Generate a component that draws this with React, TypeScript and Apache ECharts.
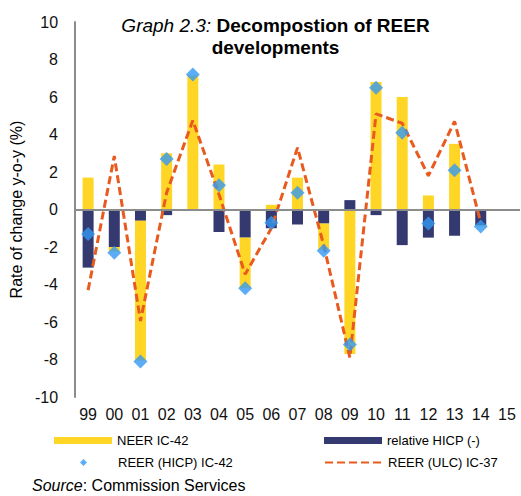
import React, { useEffect, useRef } from "react";
import * as echarts from "echarts";

const categories = ["99", "00", "01", "02", "03", "04", "05", "06", "07", "08", "09", "10", "11", "12", "13", "14", "15"];
const neer = [1.7, -0.25, -7.45, 3.0, 7.15, 2.4, -2.7, 0.25, 1.7, -1.4, -7.7, 6.8, 6.0, 0.75, 3.5, -0.05, null];
const relHicp = [-3.1, -2.0, -0.6, -0.3, 0, -1.2, -1.5, -1.0, -0.8, -0.75, 0.5, -0.3, -1.9, -1.5, -1.4, -0.85, null];
const reerHicp = [-1.3, -2.3, -8.1, 2.7, 7.2, 1.3, -4.2, -0.7, 0.9, -2.2, -7.2, 6.5, 4.1, -0.75, 2.1, -0.9, null];
const reerUlc = [-4.3, 2.85, -5.95, 0.9, 4.75, 0.8, -3.45, -1.0, 3.3, -1.9, -7.9, 5.1, 4.6, 1.8, 4.7, -0.7, null];

const FONT = "Liberation Sans, Arial, sans-serif";
const YELLOW = "#FFD626";
const NAVY = "#343A70";
const BLUE = "#3399F5";
const ORANGE = "#E85A1E";

export default function App() {
  const ref = useRef<HTMLDivElement>(null);
  useEffect(() => {
    if (!ref.current) return;
    const chart = echarts.init(ref.current, null, { renderer: "svg" });
    const legendBase = {
      padding: 0,
      textStyle: { fontFamily: FONT, fontSize: 13, color: "#000" },
      selectedMode: false,
    };
    chart.setOption({
      animation: false,
      backgroundColor: "#fff",
      textStyle: { fontFamily: FONT },
      grid: { left: 70, right: 1, top: 22, bottom: 99, containLabel: false },
      xAxis: {
        type: "category",
        data: categories,
        axisLine: { show: false },
        axisTick: { show: false },
        splitLine: { show: false },
        axisLabel: { fontSize: 16, color: "#111", fontFamily: FONT, margin: 9, interval: 0 },
      },
      yAxis: {
        type: "value",
        min: -10,
        max: 10,
        interval: 2,
        name: "Rate of change y-o-y (%)",
        nameLocation: "middle",
        nameGap: 50,
        nameTextStyle: { fontSize: 16, color: "#000", fontFamily: FONT },
        axisLine: { show: true, lineStyle: { color: "#8c8c8c", width: 2 } },
        axisTick: { show: false },
        splitLine: { show: false },
        axisLabel: { fontSize: 16, color: "#111", fontFamily: FONT, margin: 17 },
      },
      legend: [
        { ...legendBase, data: [{ name: "NEER IC-42", icon: "rect" }], left: 54, top: 434, itemWidth: 58, itemHeight: 7 },
        { ...legendBase, data: [{ name: "relative HICP (-)", icon: "rect" }], left: 324, top: 434, itemWidth: 58, itemHeight: 7 },
        {
          ...legendBase,
          data: [{ name: "REER (HICP) IC-42", icon: "diamond" }],
          left: 80,
          top: 456,
          itemWidth: 7,
          itemHeight: 7,
          textStyle: { ...legendBase.textStyle, padding: [0, 0, 0, 26] },
        },
        {
          ...legendBase,
          data: [{ name: "REER (ULC) IC-37", itemStyle: { opacity: 0 } }],
          left: 324,
          top: 456,
          itemWidth: 58,
          itemHeight: 7,
        },
      ],
      graphic: [
        {
          type: "text",
          x: 275.5,
          y: 25,
          style: {
            text: "{i|Graph 2.3:}{b| Decompostion of REER}",
            align: "center",
            verticalAlign: "middle",
            rich: {
              i: { fontFamily: FONT, fontSize: 19, fontStyle: "italic", fill: "#000" },
              b: { fontFamily: FONT, fontSize: 19, fontWeight: "bold", fill: "#000" },
            },
          },
        },
        {
          type: "text",
          x: 275.5,
          y: 47,
          style: {
            text: "developments",
            align: "center",
            verticalAlign: "middle",
            fontFamily: FONT,
            fontSize: 19,
            fontWeight: "bold",
            fill: "#000",
          },
        },
        {
          type: "text",
          x: 32,
          y: 485,
          style: {
            text: "{i|Source}{n|: Commission Services}",
            align: "left",
            verticalAlign: "middle",
            rich: {
              i: { fontFamily: FONT, fontSize: 16, fontStyle: "italic", fill: "#000" },
              n: { fontFamily: FONT, fontSize: 16, fill: "#000" },
            },
          },
        },
      ],
      series: [
        {
          name: "relative HICP (-)",
          type: "bar",
          stack: "total",
          data: relHicp,
          barWidth: 11,
          itemStyle: { color: NAVY },
          z: 2,
          markLine: {
            silent: true,
            symbol: ["none", "none"],
            label: { show: false },
            lineStyle: { color: "#8c8c8c", width: 2, type: "solid" },
            data: [{ yAxis: 0 }],
          },
        },
        {
          name: "NEER IC-42",
          type: "bar",
          stack: "total",
          data: neer,
          barWidth: 11,
          itemStyle: { color: YELLOW },
          z: 2,
        },
        {
          name: "REER (ULC) IC-37",
          type: "line",
          data: reerUlc,
          symbol: "none",
          lineStyle: { color: ORANGE, width: 3, type: [8, 4] },
          itemStyle: { color: ORANGE },
          z: 4,
        },
        {
          name: "REER (HICP) IC-42",
          type: "scatter",
          data: reerHicp,
          symbol: "diamond",
          symbolSize: 14,
          itemStyle: { color: BLUE },
          z: 5,
        },
      ],
    });
    return () => chart.dispose();
  }, []);
  return <div ref={ref} style={{ position: "fixed", left: 0, top: 0, width: 521, height: 496 }} />;
}
